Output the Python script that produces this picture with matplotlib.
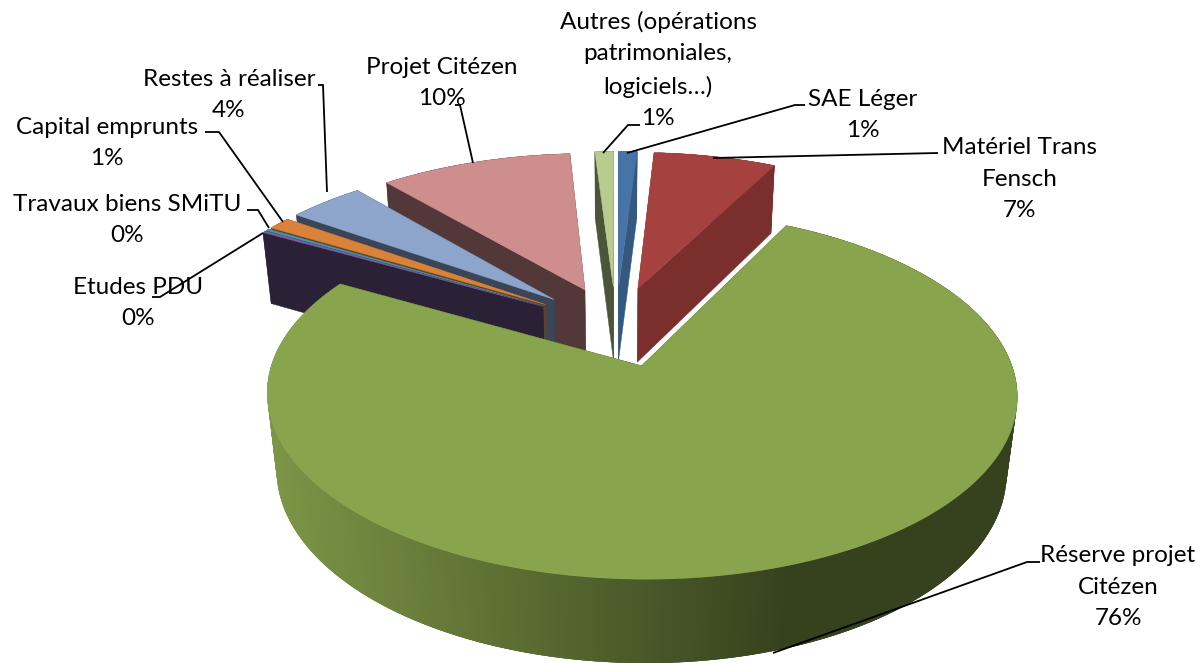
import matplotlib
matplotlib.use('Agg')
import matplotlib.pyplot as plt
from matplotlib.colors import to_rgb
import numpy as np

# order is clockwise from 12 o'clock, like the spreadsheet does it
categories = ['SAE Léger', 'Matériel Trans\nFensch', 'Réserve projet\nCitézen', 'Etudes PDU',
              'Travaux biens SMiTU', 'Capital emprunts', 'Restes à réaliser', 'Projet Citézen',
              'Autres (opérations\npatrimoniales,\nlogiciels…)']
values = [1.0, 6.51, 75.5, 0.2, 0.2, 1.2, 4.0, 10.2, 1.0]
top_colors = ['#4674A9', '#A5423F', '#88A44C', '#7C5E9B', '#3A9AB0', '#D8823A', '#8EA5CB', '#CE8E8D', '#B8CC8F']
wall_colors = ['#34587F', '#7A2F2D', '#36421D', '#2B2136', '#1E4F5C', '#6B4019', '#3B4558', '#533839', '#4C543A']

# label centres (pixels) and leader lines
label_pos = [(863, 115), (1020, 179), (1118, 587), (138, 303), (127, 220), (107, 143), (229, 95), (442, 83), (658, 70)]
leaders = [[(627, 153), (795, 105), (805, 105)],
           [(713, 158), (938, 153)],
           [(773, 653), (1027, 562), (1040, 562)],
           [(263, 233), (160, 297), (152, 297)],
           [(269, 228), (258, 210), (247, 210)],
           [(283, 222), (219, 132), (205, 132)],
           [(327, 192), (323, 85), (318, 85)],
           [(473, 163), (460, 105), (455, 105)],
           [(603, 153), (628, 125), (640, 125)]]

# perspective of the disc
OX, OY = 616, 326
A, B, H = 357.4, 167.4, 77
K, KZ = 0.152, 0.026
EXPLODE = 0.24
# back to front
draw_order = [7, 6, 5, 4, 3, 8, 0, 1, 2]


def project(u, v, z):
    w = 1 + K * v + KZ * z
    return OX + A * u / w, OY + (-B * v + H * z) / w


fig = plt.figure(figsize=(12.01, 6.63), dpi=100)
ax = fig.add_axes([0, 0, 1, 1])
ax.set_xlim(0, 1201)
ax.set_ylim(663, 0)
ax.axis('off')

edges = np.radians(np.concatenate([[0], np.cumsum(values)]) * 360 / sum(values))

for i in draw_order:
    t0, t1 = edges[i], edges[i + 1]
    mid = (t0 + t1) / 2
    u0, v0 = EXPLODE * np.sin(mid), EXPLODE * np.cos(mid)
    t = np.linspace(t0, t1, max(int(np.degrees(t1 - t0) * 2), 4))
    u, v = u0 + np.sin(t), v0 + np.cos(t)

    # radial walls
    for k in (0, -1):
        xs, ys = project(np.array([u0, u[k], u[k], u0]), np.array([v0, v[k], v[k], v0]), np.array([0, 0, 1, 1]))
        ax.fill(xs, ys, color=wall_colors[i], lw=0.3, zorder=1)

    # outer wall, the big slice gets a shaded one. strips overlap so no seams show
    xt, yt = project(u, v, 0)
    xb, yb = project(u, v, 1)
    for k in range(len(t) - 1):
        c = wall_colors[i]
        if i == 2:
            f = np.clip((xt[k] - 270) / (790 - 270), 0, 1)
            c = tuple((1 - f) * np.array(to_rgb('#7C9546')) + f * np.array(to_rgb('#36421D')))
        e = min(k + 3, len(t) - 1)
        ax.fill([xt[k], xt[e], xb[e], xb[k]], [yt[k], yt[e], yb[e], yb[k]], color=c, lw=0, zorder=1)

    # top face
    xa, ya = project(u0, v0, 0)
    ax.fill(np.r_[xa, xt], np.r_[ya, yt], color=top_colors[i], lw=0.3, zorder=1)

for line in leaders:
    ax.plot([p[0] for p in line], [p[1] for p in line], color='black', lw=1.3, zorder=2,
            solid_capstyle='butt', solid_joinstyle='miter')

for name, val, pos in zip(categories, values, label_pos):
    ax.text(pos[0], pos[1], f'{name}\n{val:.0f}%', ha='center', va='center', family='Lato',
            fontsize=17.5, color='black', linespacing=1.62, zorder=3)

plt.savefig('out.png', dpi=100)
